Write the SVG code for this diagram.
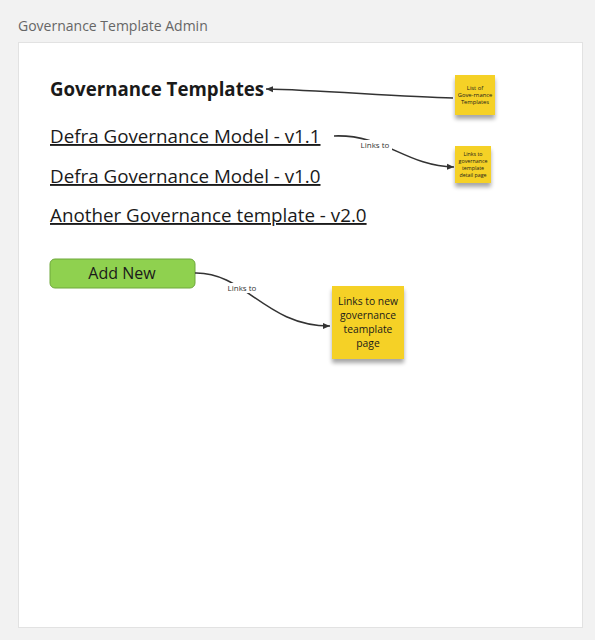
<svg xmlns="http://www.w3.org/2000/svg" width="595" height="640" viewBox="0 0 595 640">
<defs>
<marker id="arr" markerWidth="8" markerHeight="8" refX="7" refY="4" orient="auto" markerUnits="userSpaceOnUse">
<path d="M0,1 L7,4 L0,7 Z" fill="#333"/>
</marker>
<filter id="sh" x="-30%" y="-30%" width="160%" height="170%">
<feGaussianBlur in="SourceAlpha" stdDeviation="2"/>
<feOffset dx="0" dy="4"/>
<feComponentTransfer><feFuncA type="linear" slope="0.35"/></feComponentTransfer>
<feMerge><feMergeNode/><feMergeNode in="SourceGraphic"/></feMerge>
</filter>
</defs>
<style>
text{font-family:"Open Sans","Liberation Sans",sans-serif;}
.title{font-size:14px;fill:#666;}
.head{font-size:18.7px;font-weight:bold;fill:#1a1a1a;}
.link{font-size:18.8px;fill:#1a1a1a;text-decoration:underline;}
.btn{fill:#8fd14f;stroke:#6ea83c;stroke-width:1;}
.btnt{font-size:16px;fill:#1a1a1a;}
.sticky{fill:#f5d128;}
.st{fill:#1a1a1a;text-anchor:middle;}
.conn{fill:none;stroke:#333;stroke-width:1.6;marker-end:url(#arr);}
.lbl{font-size:8px;fill:#333;text-anchor:middle;}
.lblbg{fill:#fff;}
</style>
<rect x="0" y="0" width="595" height="640" fill="#f2f2f2"/>
<text class="title" x="18" y="31">Governance Template Admin</text>
<rect x="18.5" y="42.5" width="564" height="585" fill="#fff" stroke="#e2e2e2"/>

<g id="heading"><text class="head" x="50" y="96">Governance Templates</text></g>
<g id="link1"><text class="link" x="50" y="143">Defra Governance Model - v1.1</text></g>
<g id="link2"><text class="link" x="50" y="183">Defra Governance Model - v1.0</text></g>
<g id="link3"><text class="link" x="50" y="222">Another Governance template - v2.0</text></g>
<g id="addnew">
<rect class="btn" x="50" y="259" width="145" height="29" rx="5"/>
<text class="btnt" x="122" y="279" text-anchor="middle">Add New</text>
</g>

<g id="sticky1">
<rect class="sticky" x="455" y="75" width="40" height="40" filter="url(#sh)"/>
<text class="st" font-size="5.8" x="475" y="90">List of</text>
<text class="st" font-size="5.8" x="475" y="97">Gove-rnance</text>
<text class="st" font-size="5.8" x="475" y="104">Templates</text>
</g>
<g id="sticky2">
<rect class="sticky" x="455" y="146" width="36" height="37" filter="url(#sh)"/>
<text class="st" font-size="5.3" x="473" y="156">Links to</text>
<text class="st" font-size="5.3" x="473" y="163">governance</text>
<text class="st" font-size="5.3" x="473" y="170">template</text>
<text class="st" font-size="5.3" x="473" y="177">detail page</text>
</g>
<g id="sticky3">
<rect class="sticky" x="332" y="286" width="72" height="73" filter="url(#sh)"/>
<text class="st" font-size="10.3" x="368" y="305">Links to new</text>
<text class="st" font-size="10.3" x="368" y="319">governance</text>
<text class="st" font-size="10.3" x="368" y="333">teamplate</text>
<text class="st" font-size="10.3" x="368" y="347">page</text>
</g>

<g id="connectors">
<path class="conn" d="M453,98 C 400,97 320,90 266,89"/>
<path class="conn" d="M334,136 C 385,134 405,166 454,167"/>
<rect class="lblbg" x="358" y="140" width="34" height="10"/>
<text class="lbl" x="375" y="148">Links to</text>
<path class="conn" d="M195,273 C 245,272 265,326 330,326"/>
<rect class="lblbg" x="225" y="283" width="34" height="10"/>
<text class="lbl" x="242" y="291">Links to</text>
</g>
</svg>
